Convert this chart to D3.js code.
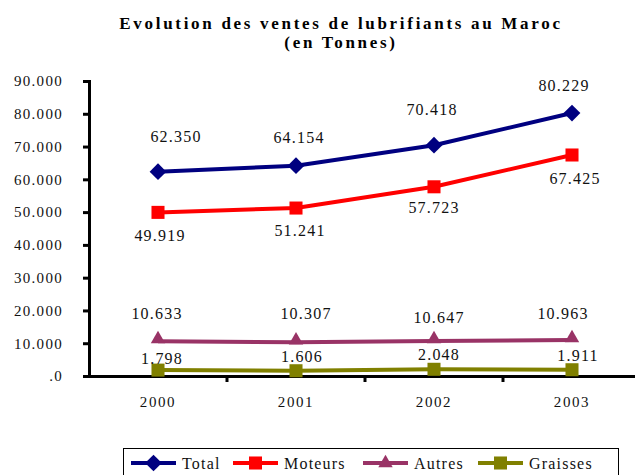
<!DOCTYPE html>
<html>
<head>
<meta charset="utf-8">
<script src="https://cdn.jsdelivr.net/npm/d3@7"></script>
<style>
  body { margin: 0; background: #fff; }
</style>
</head>
<body>
<div id="chart"></div>
<script>
var years = ["2000", "2001", "2002", "2003"];
var total = [62350, 64154, 70418, 80229];
var moteurs = [49919, 51241, 57723, 67425];
var autres = [10633, 10307, 10647, 10963];
var graisses = [1798, 1606, 2048, 1911];
var yTicks = [0, 10000, 20000, 30000, 40000, 50000, 60000, 70000, 80000, 90000];

var serif = "'Liberation Serif', 'Times New Roman', Times, serif";

// label nudges (px), purely cosmetic
var series = [
  {name: "Total", values: total, color: "#000080", shape: "diamond", dy: [-35, -28, -36, -28], dx: [18, 3, -2, -8]},
  {name: "Moteurs", values: moteurs, color: "#ff0000", shape: "square", dy: [23, 22, 21, 24], dx: [2, 4, 0, 3]},
  {name: "Autres", values: autres, color: "#993366", shape: "triangle", dy: [-28, -29, -24, -27], dx: [-1, 10, 5, -9]},
  {name: "Graisses", values: graisses, color: "#808000", shape: "square", dy: [-12, -14, -15, -14], dx: [4, 6, 5, 6]}
];

var width = 635, height = 475;

var svg = d3.select("#chart").append("svg")
  .attr("width", width)
  .attr("height", height);

var x = d3.scaleBand().domain(years).range([89, 641]);
var y = d3.scaleLinear().domain([0, 90000]).range([376, 81]);

function fmt(v) {
  if (v === 0) return ".0";
  return d3.format(",")(v).replace(/,/g, ".");
}

// title
svg.append("text")
  .attr("x", 341).attr("y", 29)
  .attr("text-anchor", "middle")
  .style("font-family", serif)
  .style("font-size", "17px").style("font-weight", "bold").style("letter-spacing", "2.7px")
  .text("Evolution des ventes de lubrifiants au Maroc");
svg.append("text")
  .attr("x", 341).attr("y", 48)
  .attr("text-anchor", "middle")
  .style("font-family", serif)
  .style("font-size", "17px").style("font-weight", "bold").style("letter-spacing", "2.7px")
  .text("(en Tonnes)");

// y axis
var yAxis = svg.append("g")
  .attr("transform", "translate(89,0)")
  .call(d3.axisLeft(y).tickValues(yTicks).tickFormat(fmt).tickSize(6).tickPadding(20));
yAxis.selectAll("text")
  .style("font-family", serif)
  .style("font-size", "15px").style("letter-spacing", "1.3px").attr("fill", "#111");

// x axis
var xAxis = svg.append("g")
  .attr("transform", "translate(0,376)")
  .call(d3.axisBottom(x).tickSize(0).tickPadding(20));
xAxis.selectAll("text")
  .style("font-family", serif)
  .style("font-size", "15px").style("letter-spacing", "1.6px").attr("fill", "#111");
xAxis.selectAll(".tick-mark")
  .data(years.slice(1))
  .enter().append("line")
  .attr("x1", function(d) { return x(d); })
  .attr("x2", function(d) { return x(d); })
  .attr("y1", 0).attr("y2", 6)
  .attr("stroke", "#000").attr("stroke-width", 3);

svg.selectAll(".domain").attr("stroke", "#000").attr("stroke-width", 3);
yAxis.selectAll(".tick line").attr("stroke", "#000").attr("stroke-width", 3);

function cx(i) { return x(years[i]) + x.bandwidth() / 2; }

var line = d3.line()
  .x(function(d, i) { return cx(i); })
  .y(function(d) { return y(d); });

var symbols = {
  diamond: d3.symbol().type(d3.symbolSquare).size(140),
  square: d3.symbol().type(d3.symbolSquare).size(170),
  triangle: d3.symbol().type(d3.symbolTriangle).size(90)
};

series.forEach(function(s) {
  var g = svg.append("g");
  g.append("path")
    .datum(s.values)
    .attr("d", line)
    .attr("fill", "none")
    .attr("stroke", s.color)
    .attr("stroke-width", 4);

  g.selectAll(".pt")
    .data(s.values)
    .enter().append("path")
    .attr("d", symbols[s.shape])
    .attr("transform", function(d, i) {
      var t = "translate(" + cx(i) + "," + y(d) + ")";
      if (s.shape === "diamond") t += " rotate(45)";
      if (s.shape === "triangle") t += " translate(0,-2)";
      return t;
    })
    .attr("fill", s.color);

  g.selectAll(".lbl")
    .data(s.values)
    .enter().append("text")
    .attr("x", function(d, i) { return cx(i) + s.dx[i]; })
    .attr("y", function(d, i) { return y(d) + s.dy[i] + 5.5; })
    .attr("text-anchor", "middle")
    .attr("fill", "#111")
    .style("font-family", serif)
    .style("font-size", "16px").style("letter-spacing", "1.2px")
    .text(function(d) { return fmt(d); });
});

// legend
var legend = svg.append("g");
legend.append("rect")
  .attr("x", 123.5).attr("y", 448.5)
  .attr("width", 495).attr("height", 40)
  .attr("fill", "none").attr("stroke", "#000").attr("stroke-width", 1);

var legX = [131, 233, 363, 478];
series.forEach(function(s, i) {
  var item = legend.append("g").attr("transform", "translate(" + legX[i] + ",463)");
  item.append("line")
    .attr("x1", 0).attr("x2", 45)
    .attr("stroke", s.color).attr("stroke-width", 4);
  item.append("path")
    .attr("d", symbols[s.shape])
    .attr("transform", "translate(22.5,0)" + (s.shape === "diamond" ? " rotate(45)" : ""))
    .attr("fill", s.color);
  item.append("text")
    .attr("x", 51).attr("y", 6)
    .attr("fill", "#111")
    .style("font-family", serif)
    .style("font-size", "16px").style("letter-spacing", "1.2px")
    .text(s.name);
});
</script>
</body>
</html>
